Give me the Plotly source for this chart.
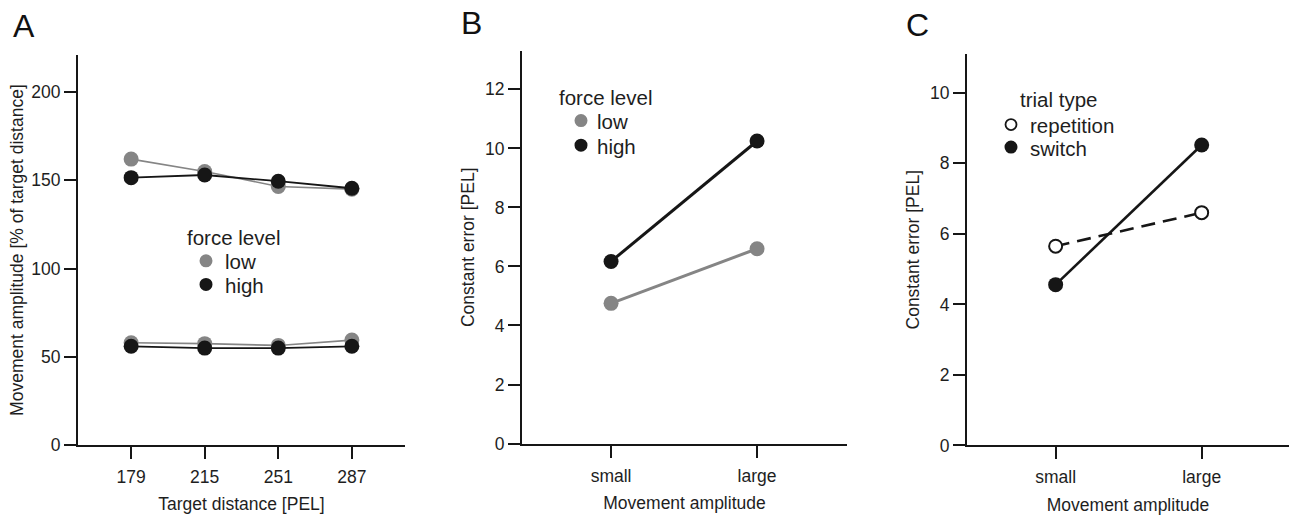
import plotly.graph_objects as go

# ---- data ----
# Panel A: movement amplitude (% of target distance) per target distance
target_distance = [179, 215, 251, 287]
amp_low_upper = [162, 155, 146.5, 145]
amp_high_upper = [151.5, 153, 149.5, 145.5]
amp_low_lower = [58, 57.5, 56.5, 59.5]
amp_high_lower = [56, 55, 55, 56]

# Panels B and C: constant error (PEL) per movement amplitude
amplitude_cats = ["small", "large"]
ce_force_low = [4.75, 6.6]
ce_force_high = [6.17, 10.25]
ce_repetition = [5.65, 6.6]
ce_switch = [4.56, 8.52]

y_ticks_a = [0, 50, 100, 150, 200]
y_ticks_b = [0, 2, 4, 6, 8, 10, 12]
y_ticks_c = [0, 2, 4, 6, 8, 10]

W, H = 1289, 516
FONT = "Liberation Sans, Arial, sans-serif"
INK = "#161616"
TXT = "#1e1e1e"
GRAY = "#858585"


def px_x(p):
    return p / W


def px_y(p):
    return 1 - p / H


fig = go.Figure()


def line(x, y, xa, ya, color, width, size, dash="solid", fill=None, lw=0):
    fig.add_trace(go.Scatter(
        x=x, y=y, xaxis=xa, yaxis=ya, mode="lines+markers",
        line=dict(color=color, width=width, dash=dash),
        marker=dict(size=size, color=fill if fill else color,
                    line=dict(color=color, width=lw)),
        showlegend=False, hoverinfo="x+y"))


# Panel A
line(target_distance, amp_low_upper, "x", "y", GRAY, 1.6, 15)
line(target_distance, amp_low_lower, "x", "y", GRAY, 1.6, 15)
line(target_distance, amp_high_upper, "x", "y", INK, 1.8, 15)
line(target_distance, amp_high_lower, "x", "y", INK, 1.8, 15)

# Panel B
line(amplitude_cats, ce_force_low, "x2", "y2", GRAY, 3, 15)
line(amplitude_cats, ce_force_high, "x2", "y2", INK, 3, 15)

# Panel C
line(amplitude_cats, ce_repetition, "x3", "y3", INK, 2.6, 13,
     dash="14px,8px", fill="white", lw=2)
line(amplitude_cats, ce_switch, "x3", "y3", INK, 2.6, 15)

axis_common = dict(
    showline=True, linecolor=INK, linewidth=2, ticks="outside", ticklen=12,
    tickwidth=2, tickcolor=INK, showgrid=False, zeroline=False,
    tickfont=dict(size=17.5, color=TXT, family=FONT), fixedrange=True,
)
x_common = dict(**axis_common, ticklabelstandoff=3)
title_font = dict(size=17.5, color=TXT, family=FONT)

# pixel extents of the three plot areas
dom_a = dict(x=(78, 405), y=(454, 56))
dom_b = dict(x=(522, 847), y=(452.3, 52))
dom_c = dict(x=(967, 1289), y=(454.3, 55))


def xdom(d):
    return [px_x(d["x"][0]), px_x(d["x"][1])]


def ydom(d):
    return [px_y(d["y"][0]), px_y(d["y"][1])]


fig.update_layout(
    width=W, height=H, autosize=False,
    margin=dict(l=0, r=0, t=0, b=0),
    paper_bgcolor="white", plot_bgcolor="white",
    font=dict(family=FONT, color=TXT),
    showlegend=False,
    xaxis=dict(**x_common, domain=xdom(dom_a), range=[153, 313],
               tickvals=target_distance, anchor="y",
               title=dict(text="Target distance [PEL]", font=title_font, standoff=12)),
    yaxis=dict(**axis_common, domain=ydom(dom_a), range=[0, 221],
               tickvals=y_ticks_a, anchor="x",
               title=dict(text="Movement amplitude [% of target distance]",
                          font=title_font, standoff=3)),
    xaxis2=dict(**x_common, domain=xdom(dom_b), type="category",
                range=[-0.61, 1.616], anchor="y2",
                title=dict(text="Movement amplitude", font=title_font, standoff=12)),
    yaxis2=dict(**axis_common, domain=ydom(dom_b), range=[0, 13.3],
                tickvals=y_ticks_b, anchor="x2",
                title=dict(text="Constant error [PEL]", font=title_font, standoff=6)),
    xaxis3=dict(**x_common, domain=xdom(dom_c), type="category",
                range=[-0.607, 1.598], anchor="y3",
                title=dict(text="Movement amplitude", font=title_font, standoff=12)),
    yaxis3=dict(**axis_common, domain=ydom(dom_c), range=[0, 11.1],
                tickvals=y_ticks_c, anchor="x3",
                title=dict(text="Constant error [PEL]", font=title_font, standoff=6)),
)

# panel letters
for letter, (lx, ly) in {"A": (24, 27), "B": (471, 23), "C": (917, 26)}.items():
    fig.add_annotation(text=letter, x=px_x(lx), y=px_y(ly), xref="paper", yref="paper",
                       showarrow=False, xanchor="center", yanchor="middle",
                       font=dict(size=32, color="#111111", family=FONT))

# keys: title, then (label, marker centre y, marker fill, outline width, diameter)
keys = [
    dict(title="force level", title_xy=(185, 242), mark_x=206, text_x=223,
         rows=[("low", 266, GRAY, 0, 13), ("high", 290, INK, 0, 13)]),
    dict(title="force level", title_xy=(557, 99), mark_x=581, text_x=595,
         rows=[("low", 123, GRAY, 0, 13), ("high", 148, INK, 0, 13)]),
    dict(title="trial type", title_xy=(1018, 101), mark_x=1011, text_x=1028,
         rows=[("repetition", 127, "white", 1.8, 11), ("switch", 150, INK, 0, 13)]),
]
key_font = dict(size=20.5, color=TXT, family=FONT)
for k in keys:
    tx, ty = k["title_xy"]
    fig.add_annotation(text=k["title"], x=px_x(tx), y=px_y(ty), xref="paper", yref="paper",
                       showarrow=False, xanchor="left", yanchor="middle", font=key_font)
    for label, cy, fill, lw, d in k["rows"]:
        r = d / 2
        fig.add_shape(type="circle", xref="paper", yref="paper",
                      xsizemode="pixel", ysizemode="pixel",
                      xanchor=px_x(k["mark_x"]), yanchor=px_y(cy),
                      x0=-r, x1=r, y0=-r, y1=r,
                      fillcolor=fill, line=dict(color=INK, width=lw))
        fig.add_annotation(text=label, x=px_x(k["text_x"]), y=px_y(cy + 1),
                           xref="paper", yref="paper", showarrow=False,
                           xanchor="left", yanchor="middle", font=key_font)

fig.write_html("out.html", config={"displayModeBar": False})
